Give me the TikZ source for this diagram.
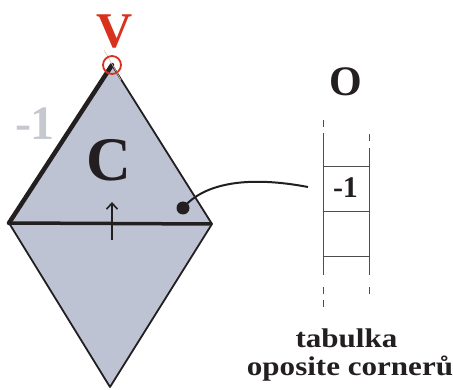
\documentclass[tikz,border=0pt]{standalone}
\usepackage{fontspec}
\setmainfont{Liberation Serif}
\usetikzlibrary{arrows.meta}
\definecolor{fillc}{HTML}{BEC3D4}
\definecolor{graytxt}{HTML}{C6C8CF}
\definecolor{redc}{HTML}{D8321E}
\definecolor{ink}{HTML}{231F20}
\tikzset{
  thin edge/.style={draw=ink, line width=1.8pt},
  thick edge/.style={draw=ink, line width=4.5pt, line cap=round},
  mid edge/.style={draw=ink, line width=3.5pt},
  tabline/.style={draw=ink!80, line width=1pt},
  dashline/.style={draw=ink!80, line width=1pt, dash pattern=on 7pt off 6pt},
  lbl/.style={font=\bfseries, inner sep=0pt, text=ink},
  caption/.style={lbl, anchor=base, font=\bfseries\fontsize{27}{27}\selectfont, xscale=1.15},
}
\begin{document}
\begin{tikzpicture}[x=1pt,y=-1pt]
\useasboundingbox (0,0) rectangle (453,390);
\coordinate (T) at (112,65);
\coordinate (L) at (9,223);
\coordinate (R) at (212,224);
\coordinate (B) at (110,387);
\fill[fillc] (T) -- (R) -- (B) -- (L) -- cycle;
\draw[thin edge, line join=round] (T) -- (R) -- (B) -- (L);
\draw[thick edge] (T) -- (L);
\draw[mid edge] (L) -- (R);
\coordinate (p1) at (104,50);
\coordinate (p2) at (121,80);
\draw[redc!35, line width=0.6pt] (p1) -- (p2);
\draw[redc, line width=1.8pt] (T) circle (9);
\node[lbl, text=redc, font=\bfseries\fontsize{50}{50}\selectfont] (V) at (114.5,31.5) {V};
\node[lbl, text=graytxt, font=\bfseries\fontsize{48}{48}\selectfont] (m1) at (35,124) {-1};
\node[lbl, font=\bfseries\fontsize{62}{62}\selectfont] (C) at (109,160) {C};
\coordinate (a1) at (112,240);
\coordinate (a2) at (112,202);
\draw[ink, line width=2pt, -{Straight Barb[length=6pt,width=11pt,line width=1.6pt]}] (a1) -- (a2);
\node[circle, fill=ink, minimum size=13pt, inner sep=0pt] (dot) at (183,208) {};
\coordinate (ce) at (308,187);
\draw[ink, line width=2pt] (dot.center) .. controls (205,182) and (250,176) .. (ce);
% table
\node[lbl, font=\bfseries\fontsize{42}{42}\selectfont] (O) at (346,82) {O};
\draw[tabline] (323,137) -- (323,275);
\draw[tabline] (369,148) -- (369,275);
\draw[dashline] (323,120) -- (323,137);
\draw[dashline] (323,287) -- (323,307);
\draw[dashline] (369,134) -- (369,146);
\draw[dashline] (369,287) -- (369,296);
\draw[tabline] (323,167) -- (369,167);
\draw[tabline] (323,212) -- (369,212);
\draw[tabline] (323,257) -- (369,257);
\node[lbl, font=\bfseries\fontsize{30}{30}\selectfont] (m2) at (345.5,188) {-1};
\node[caption] (t1) at (346.5,348) {tabulka};
\node[caption] (t2) at (350,375) {oposite cornerů};
\end{tikzpicture}
\end{document}
